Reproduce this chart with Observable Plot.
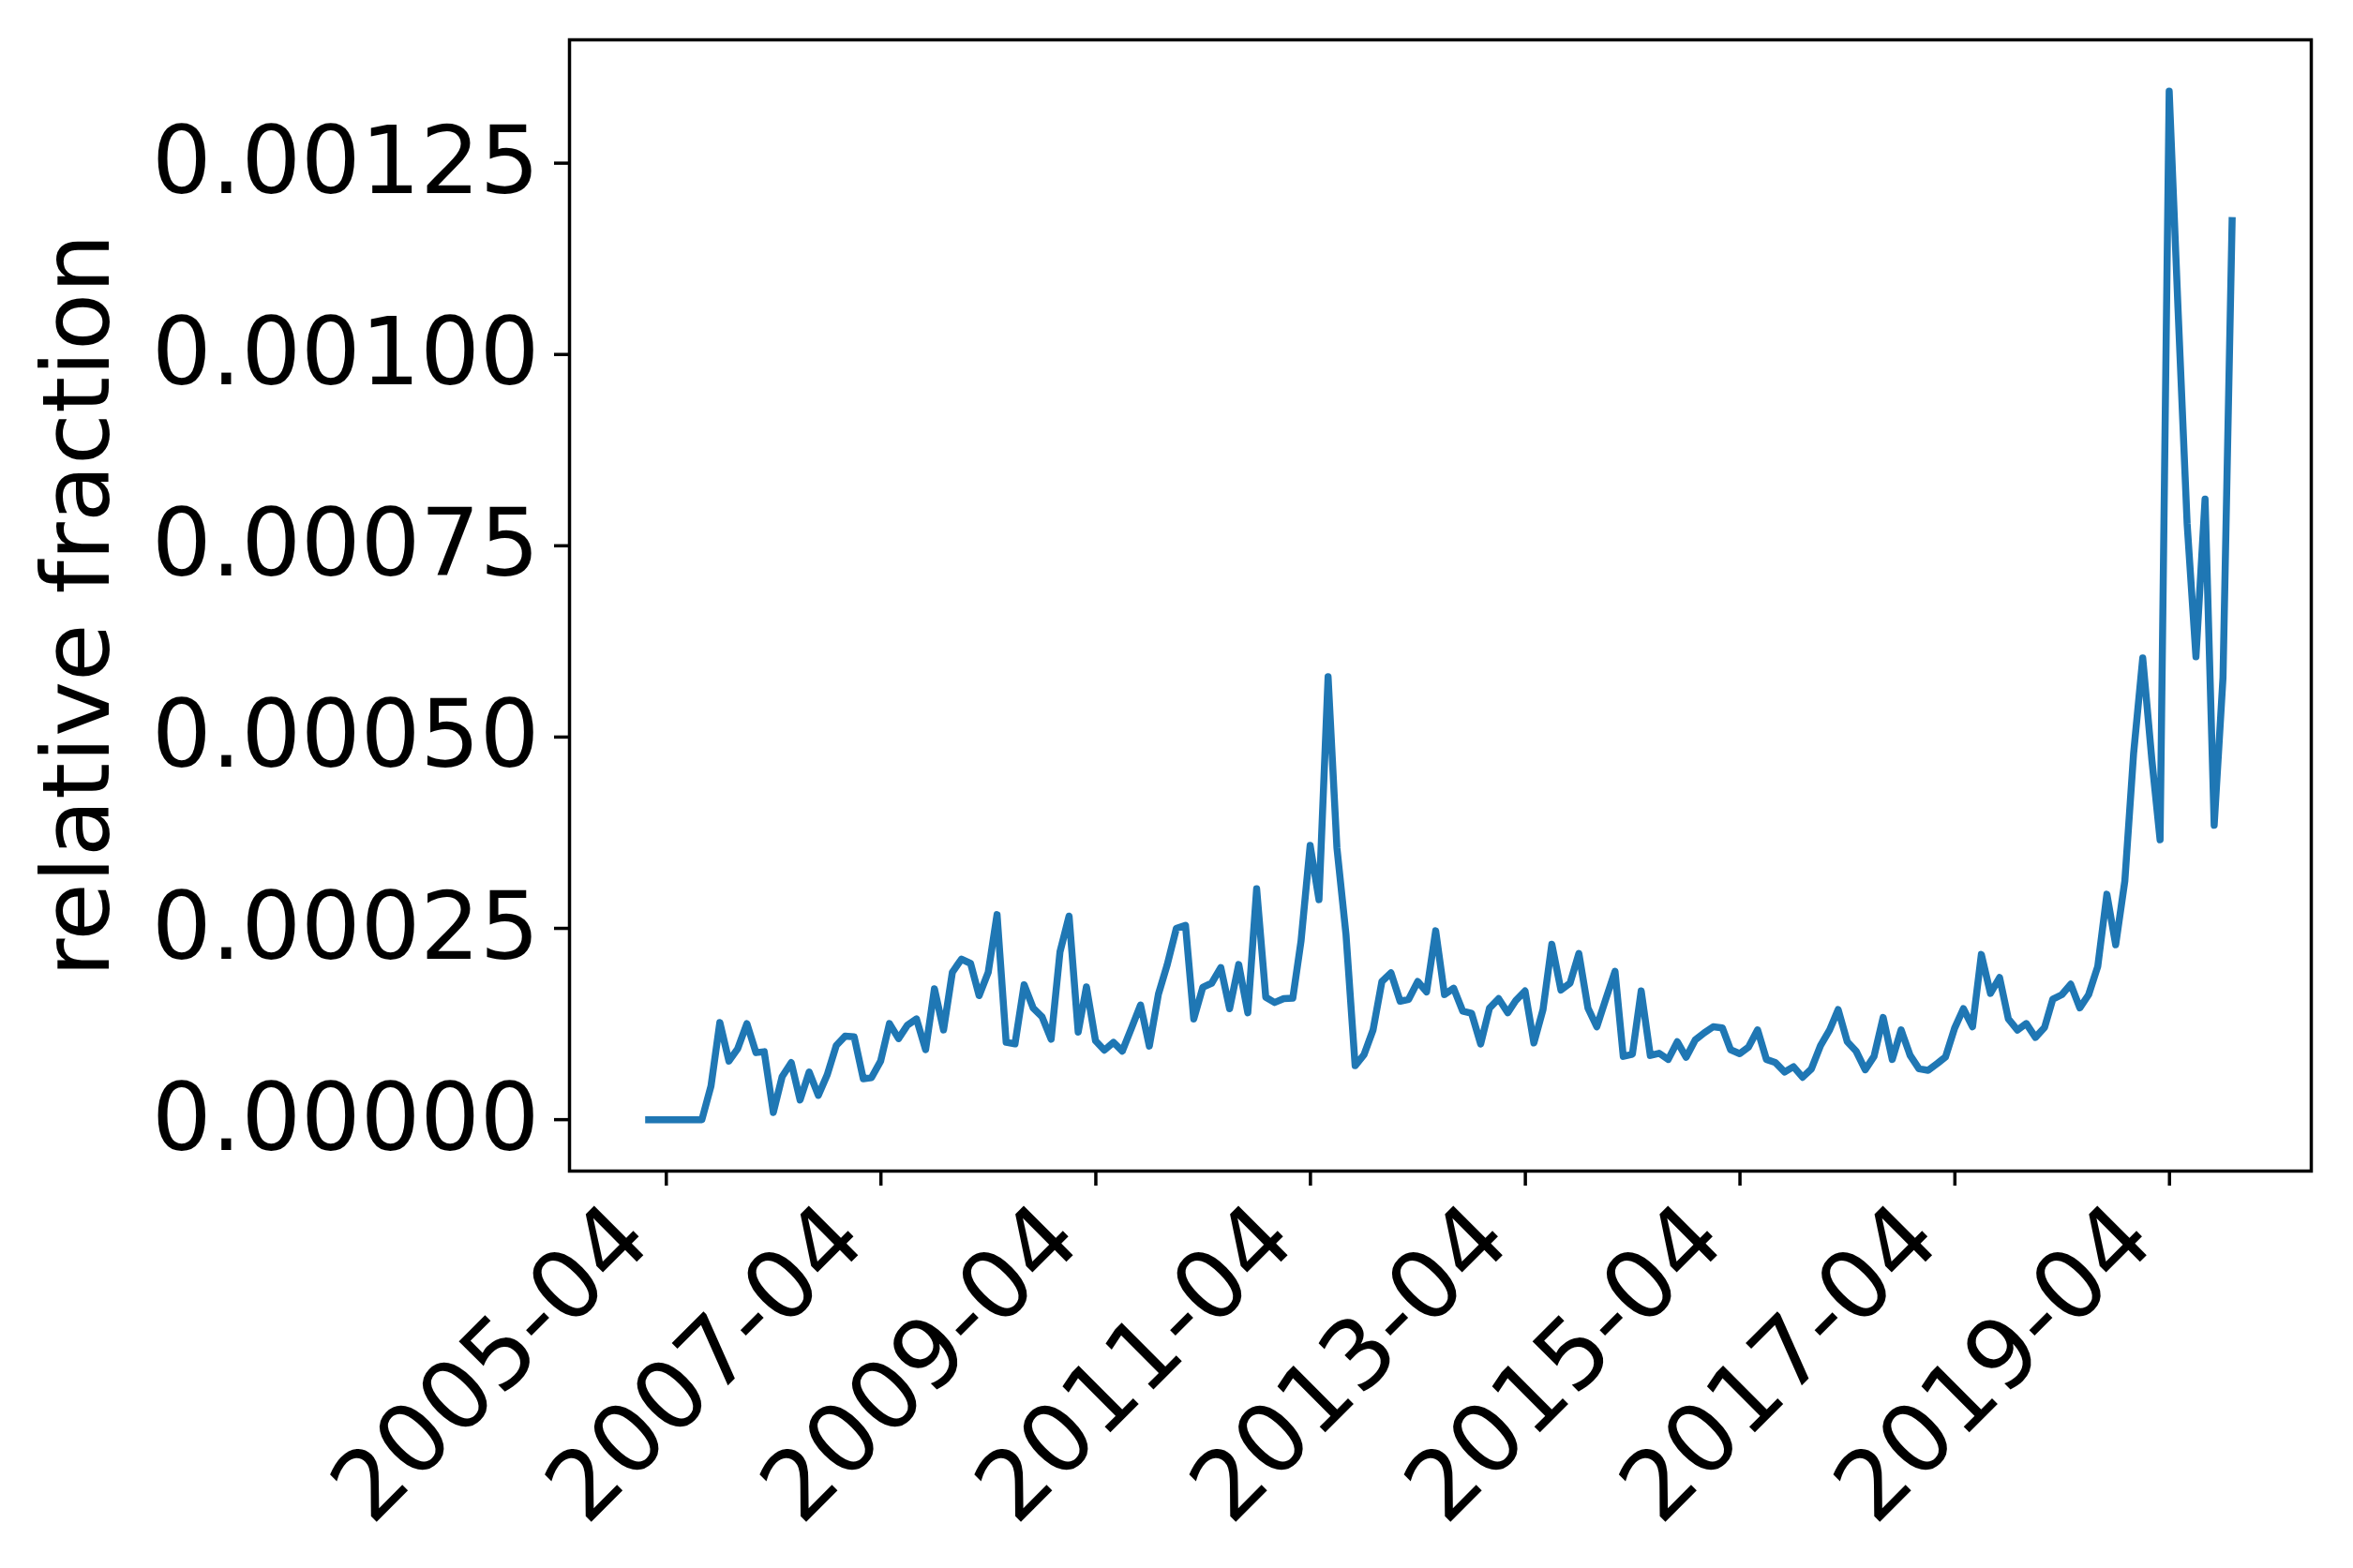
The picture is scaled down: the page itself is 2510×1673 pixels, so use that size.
<!DOCTYPE html>
<html><head><meta charset="utf-8">
<script src="https://cdn.jsdelivr.net/npm/d3@7"></script>
<script src="https://cdn.jsdelivr.net/npm/@observablehq/plot@0.6"></script>
<style>html,body{margin:0;padding:0;background:#fff;} svg{display:block;}</style>
</head><body><div id="chart"></div>
<script>
// First month of the monthly series (values are month-end samples)
const firstMonth = "2005-01";
const values = [
  0, 0, 0, 0, 0, 0, 0,
  0.000044, 0.000127, 0.0000766, 0.0000929, 0.0001255, 0.0000876, 0.0000888, 0.0000094,
  0.0000562, 0.0000745, 0.0000257, 0.0000623, 0.0000318, 0.0000583, 0.0000969, 0.0001091,
  0.0001083, 0.0000534, 0.000055, 0.0000766, 0.0001255, 0.0001059, 0.0001234, 0.0001316,
  0.0000914, 0.0001711, 0.0001173, 0.0001927, 0.0002098, 0.0002041, 0.0001621, 0.0001927,
  0.000268, 0.000101, 0.000099, 0.0001763, 0.0001458, 0.0001344, 0.0001051, 0.0002191,
  0.000266, 0.0001145, 0.0001735, 0.000103, 0.0000908, 0.000101, 0.0000896, 0.0001194,
  0.0001499, 0.0000962, 0.0001641, 0.0002028, 0.00025, 0.000254, 0.0001316, 0.0001731,
  0.0001784, 0.0001988, 0.000145, 0.0002028, 0.0001397, 0.0003018, 0.0001601, 0.0001531,
  0.0001581, 0.0001589, 0.0002334, 0.0003584, 0.0002875, 0.0005788, 0.0003556, 0.0002416,
  0.0000705, 0.0000847, 0.0001173, 0.0001805, 0.0001918, 0.0001548, 0.0001572, 0.0001805,
  0.000167, 0.0002468, 0.0001635, 0.0001717, 0.0001418, 0.0001391, 0.000099, 0.0001458,
  0.0001581, 0.0001397, 0.000156, 0.0001682, 0.0001002, 0.0001438, 0.0002293, 0.0001694,
  0.0001784, 0.0002171, 0.0001458, 0.0001214, 0.0001581, 0.0001939, 0.0000827, 0.0000855,
  0.0001682, 0.0000839, 0.0000868, 0.0000787, 0.0001018, 0.0000815, 0.0001042, 0.0001133,
  0.0001214, 0.00012, 0.0000914, 0.0000862, 0.0000949, 0.0001173, 0.0000787, 0.0000745,
  0.0000623, 0.0000692, 0.0000554, 0.0000664, 0.0000969, 0.0001173, 0.0001438, 0.0001018,
  0.0000896, 0.0000652, 0.0000827, 0.0001336, 0.0000787, 0.0001173, 0.0000839, 0.0000664,
  0.0000644, 0.0000733, 0.0000819, 0.0001194, 0.000145, 0.0001214, 0.0002159, 0.000165,
  0.0001857, 0.0001316, 0.000117, 0.0001256, 0.0001075, 0.0001205, 0.0001574, 0.0001634,
  0.0001771, 0.0001461, 0.0001634, 0.0002003, 0.0002946, 0.0002285, 0.0003117, 0.000479,
  0.0006034, 0.0004704, 0.0003657, 0.001344, 0.00106, 0.000779, 0.000605, 0.000811,
  0.0003847, 0.0005776, 0.001175
];
const xTickDates = ["2005-04-01", "2007-04-01", "2009-04-01", "2011-04-01",
                    "2013-04-01", "2015-04-01", "2017-04-01", "2019-04-01"];
const yTicks = [0, 0.00025, 0.0005, 0.00075, 0.001, 0.00125];
const yLabel = "relative fraction";

const start = new Date(firstMonth + "-01T00:00:00Z");
const data = values.map((v, i) => ({
  date: d3.utcDay.offset(d3.utcMonth.offset(start, i + 1), -1),
  value: v
}));
const xExt = d3.extent(data, d => d.date);
const xPad = (xExt[1] - xExt[0]) * 0.05;
const yMax = d3.max(values), yMin = d3.min(values);
const yPad = (yMax - yMin) * 0.05;
const xTicks = xTickDates.map(d => new Date(d + "T00:00:00Z"));

const FS = 100;
const FSX = 102;
const chart = Plot.plot({
  width: 2510, height: 1673,
  marginLeft: 607, marginRight: 45, marginTop: 42, marginBottom: 424,
  style: {fontFamily: "DejaVu Sans", fontSize: FS + "px", color: "black", background: "white", overflow: "visible"},
  x: {type: "utc", domain: [new Date(+xExt[0] - xPad), new Date(+xExt[1] + xPad)]},
  y: {domain: [yMin - yPad, yMax + yPad]},
  marks: [
    Plot.line(data, {x: "date", y: "value", stroke: "#1f77b4", strokeWidth: 7.5, strokeLinejoin: "round", strokeLinecap: "square"}),
    Plot.frame({stroke: "black", strokeWidth: 3.5}),
    Plot.axisX({ticks: xTicks, tickSize: 16, strokeWidth: 3.5, fill: "none", label: null}),
    Plot.axisX({ticks: xTicks, tickFormat: d3.utcFormat("%Y-%m"), tickSize: 16, tickPadding: 16,
      stroke: "none", fill: "black", tickRotate: -45, textAnchor: "end", lineAnchor: "top",
      fontSize: FSX, dx: -64, dy: -5, label: null}),
    Plot.axisY({ticks: yTicks, tickFormat: d => d.toFixed(5), tickSize: 16, tickPadding: 16,
      strokeWidth: 3.5, fill: "black", fontSize: FS, label: null}),
    Plot.text([yLabel], {frameAnchor: "left", rotate: -90, dx: -524, fontSize: FS,
      textAnchor: "middle", lineAnchor: "middle", fill: "black"})
  ]
});
document.getElementById("chart").appendChild(chart);
</script>
</body></html>
